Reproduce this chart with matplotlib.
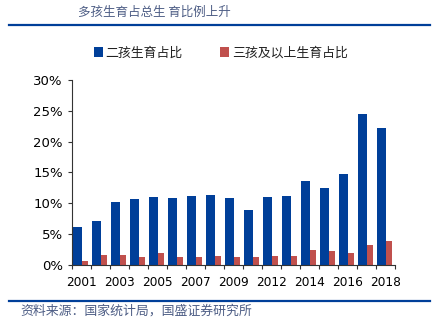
import numpy as np
import matplotlib
matplotlib.use("Agg")
import matplotlib.pyplot as plt
from matplotlib.ticker import FuncFormatter
from matplotlib.lines import Line2D

plt.rcParams["font.family"] = ["Noto Sans CJK SC", "DejaVu Sans"]

years = ["2001", "2002", "2003", "2004", "2005", "2006", "2007", "2008", "2009",
         "2010", "2012", "2013", "2014", "2015", "2016", "2017", "2018"]
second_child = [6.15, 7.05, 10.2, 10.65, 11.0, 10.9, 11.2, 11.4, 10.9,
                8.9, 11.0, 11.2, 13.6, 12.45, 14.8, 24.5, 22.2]
third_plus = [0.7, 1.6, 1.6, 1.3, 1.9, 1.25, 1.25, 1.45, 1.3,
              1.3, 1.45, 1.45, 2.45, 2.3, 1.95, 3.25, 3.85]

blue = "#003f99"
red = "#c0504d"
note_color = "#4d5d85"

fig = plt.figure(figsize=(4.43, 3.22), dpi=100, facecolor="white")
ax = fig.add_axes([0.1625, 0.177, 0.7295, 0.575])

x = np.arange(len(years))
ax.bar(x + 0.06, second_child, width=0.45, align="edge", color=blue,
       label="二孩生育占比")
ax.bar(x + 0.51, third_plus, width=0.34, align="edge", color=red,
       label="三孩及以上生育占比")

ax.set_xlim(0, len(years))
ax.set_ylim(0, 30)
ax.set_yticks(np.arange(0, 31, 5))
ax.yaxis.set_major_formatter(FuncFormatter(lambda v, p: "%d%%" % v))
ax.set_xticks(np.arange(0, len(years) + 1))
ax.set_xticklabels([])
ax.set_xticks(x[::2] + 0.5, minor=True)
ax.set_xticklabels(years[::2], minor=True, fontfamily="DejaVu Sans", fontsize=8.7)
ax.tick_params(axis="x", which="major", length=3, direction="out", color="#333333")
ax.tick_params(axis="x", which="minor", length=0, pad=8)
ax.tick_params(axis="y", length=3, direction="out", color="#333333", labelsize=9.5)
for lbl in ax.get_yticklabels():
    lbl.set_fontfamily("DejaVu Sans")
for s in ["top", "right"]:
    ax.spines[s].set_visible(False)
for s in ["left", "bottom"]:
    ax.spines[s].set_color("#333333")
    ax.spines[s].set_linewidth(0.8)

fig.legend(loc="center", bbox_to_anchor=(221 / 443, 1 - 53 / 322), ncol=2, frameon=False,
           fontsize=9.3, handlelength=0.7, handleheight=0.7, handletextpad=0.2,
           columnspacing=2.9, labelcolor="#222222")

fig.text(78 / 443, 1 - 12 / 322, "多孩生育占总生 育比例上升", fontsize=9,
         color=note_color, style="italic", va="center", ha="left")
fig.add_artist(Line2D([9 / 443, 430 / 443], [1 - 25 / 322, 1 - 25 / 322],
                      color=blue, lw=1.6, transform=fig.transFigure))
fig.add_artist(Line2D([9 / 443, 430 / 443], [1 - 301 / 322, 1 - 301 / 322],
                      color=blue, lw=1.6, transform=fig.transFigure))
fig.text(20 / 443, 1 - 311 / 322, "资料来源：国家统计局，国盛证券研究所", fontsize=9.3,
         color=note_color, style="italic", va="center", ha="left")

fig.savefig("out.png", dpi=100, facecolor="white")
